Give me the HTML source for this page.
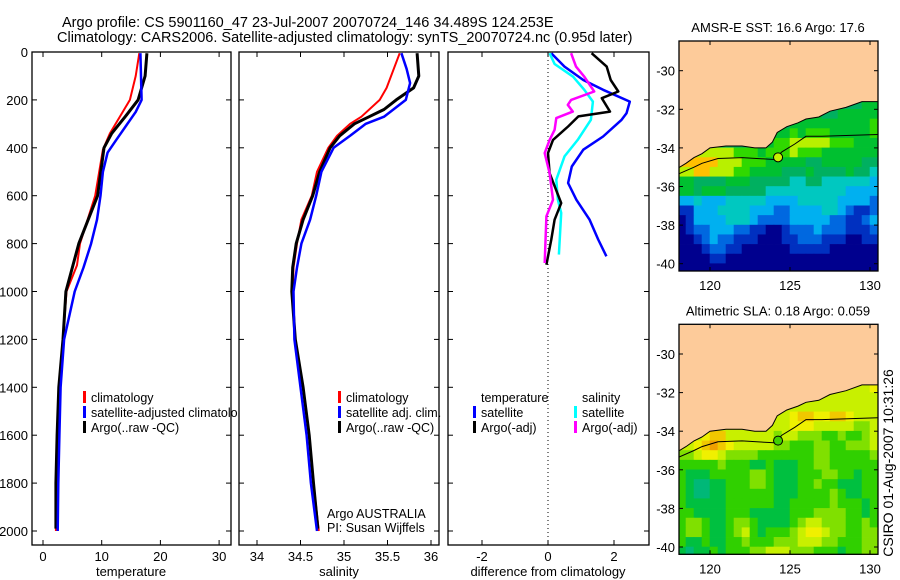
<!DOCTYPE html>
<html><head><meta charset="utf-8"><style>
html,body{margin:0;padding:0;background:#fff;}
svg{display:block;font-family:"Liberation Sans",sans-serif;}
</style></head><body>
<svg id="chart" width="900" height="580" viewBox="0 0 900 580" xmlns="http://www.w3.org/2000/svg">
<defs><clipPath id="clipP1"><rect x="0" y="0" width="238" height="580"/></clipPath>
<clipPath id="clipM1"><rect x="679" y="41" width="199" height="230"/></clipPath>
<clipPath id="clipM2"><rect x="679" y="325" width="199" height="230"/></clipPath></defs>
<text x="62" y="27" font-size="14.5">Argo profile: CS 5901160_47 23-Jul-2007 20070724_146 34.489S 124.253E</text>
<text x="57" y="42" font-size="14.5">Climatology: CARS2006. Satellite-adjusted climatology: synTS_20070724.nc (0.95d later)</text>
<g id="g"></g>
<text transform="translate(893,463) rotate(-90)" text-anchor="middle" font-size="14">CSIRO 01-Aug-2007 10:31:26</text>
</svg>
<script>
// ---- profile data (depth in m) ----
const tClimD = [5,100,200,340,408,600,800,890,1000,1200,1400,1600,1800,2000];
const tClimV = [16.4,15.8,14.8,11.4,10.2,8.9,6.3,5.8,4.0,3.4,2.8,2.5,2.3,2.2];
const tSatD = [5,100,200,250,370,420,500,600,700,800,900,1000,1200,1400,1600,1800,2000];
const tSatV = [16.6,16.7,16.8,15.8,12.4,11.0,10.2,9.8,9.2,8.2,6.9,5.4,3.6,3.0,2.8,2.6,2.5];
const tArgoD = [5,100,200,270,340,400,600,800,1000,1200,1400,1600,1800,1990];
const tArgoV = [17.7,17.4,16.2,14.0,11.7,10.4,9.3,6.1,3.9,3.4,2.7,2.4,2.2,2.2];
const sClimD = [5,150,200,270,300,350,400,500,600,700,800,900,1000,1200,1400,1600,1800,2000];
const sClimV = [35.64,35.49,35.41,35.2,35.07,34.92,34.82,34.69,34.63,34.51,34.46,34.42,34.41,34.44,34.53,34.6,34.65,34.71];
const sSatD = [5,70,130,200,270,300,350,400,500,600,700,800,900,1000,1200,1400,1600,1800,2000];
const sSatV = [35.66,35.72,35.76,35.71,35.46,35.25,35.07,34.88,34.74,34.68,34.61,34.51,34.46,34.42,34.43,34.5,34.57,34.62,34.69];
const sArgoD = [5,100,150,200,240,270,300,350,400,500,600,700,800,900,1000,1200,1400,1600,1800,1990];
const sArgoV = [35.84,35.86,35.8,35.6,35.46,35.29,35.12,34.95,34.84,34.72,34.64,34.53,34.45,34.41,34.4,34.44,34.53,34.6,34.65,34.7];
// ---- difference data ----
const dTSatD = [5,61,117,158,207,256,283,353,408,478,547,617,700,783,853];
const dTSatV = [0.1,0.5,1.07,1.67,2.48,2.38,2.23,1.67,1.07,0.72,0.61,0.86,1.26,1.52,1.77];
const dTArgoD = [5,61,117,165,193,249,269,311,367,422,506,631,700,783,888];
const dTArgoV = [1.32,1.78,1.9,2.13,1.63,1.88,0.92,0.61,0.15,0.0,0.05,0.4,0.2,0.1,-0.05];
const dSSatD = [5,50,103,158,207,283,367,436,533,617,672,846];
const dSSatV = [0.05,0.2,0.76,1.1,1.36,1.3,0.9,0.5,0.25,0.3,0.4,0.33];
const dSArgoD = [5,61,103,165,200,221,249,276,325,367,422,506,617,686,881];
const dSArgoV = [0.7,0.85,1.1,1.4,0.7,0.6,0.75,0.25,0.2,0.05,-0.1,0.05,0.15,-0.05,-0.1];
// ---- map data (rows from lat -31.5 down, 0.5deg; cols from 118E, 0.5deg) ----
const sstRows = ["5555555555555555555555566","5555555555555555665566666","5555555555555566666666667","5555555555566676777666667","5555555555567788888777666","8888888777677787776666666","9999988877766666556666655","8899888776666555655556554","6655556665555544554444443","6656665555544444444443333","3343334444433334444433332","1133344443332233334432112","0133334443222233333221123","0122333221100122232221112","0012322111000112221110011","0001221100000011111000000","0000110000000000000000000","0000000000000000000000000"];
const slaRows = ["eeeeeeeeeeeeeeeeeeeeeeeef","eeeeeeeeeeeeeeeeeeeeeeeee","eeeeeeeeeeeeeeeeeeeeeeeee","eeeeeeeeeeeeeefggffggfeee","eeeeeeeeeeeeeefffeeeeedde","eeefggeeeeeedeedddccdccde","eefghgfeeeeeddcccddccddde","ddeffeddddcccccccddcccccd","cccccdcccbbcbbbccddcccccc","cbbbcccccddcbbbcccddccbcc","cbaabbcccddcbbbccdccbbbcc","cbaabbccccccbbbccccdcbbcc","cbbbbbccccccbbcccccdcccbc","ccbbbbcccbbbbbcccddddccbc","cddcbbcddcbbbbcdeedddccdc","cddcbbcdecbcccdeffeddccdd","cbbcbbccdcccdddeeeddcccdd","babbcbcccddeeedddcccbccdd"];
const coastLon = [130.6,129.5,128.5,127.5,126.8,126,125.5,124.8,124.2,123.9,123.5,122.8,122,121,120,119.5,119,118.5,117.9];
const coastLat = [-31.6,-31.6,-31.9,-32.1,-32.4,-32.5,-32.7,-32.9,-33.2,-33.7,-34.0,-34.0,-33.9,-33.9,-34.0,-34.3,-34.5,-34.8,-35.1];
const contLon = [117.9,119,119.5,120.5,122,124,124.5,125.3,126,127,130.6];
const contLat = [-35.4,-35.0,-34.8,-34.55,-34.5,-34.6,-34.2,-33.8,-33.4,-33.4,-33.3];
const argoLon = 124.253, argoLat = -34.489;
const depthTicks = [0,200,400,600,800,1000,1200,1400,1600,1800,2000];
const tTicks = [0,10,20,30];
const sTicks = [34,34.5,35,35.5,36];
const dTicks = [-2,0,2];
const lonTicks = [120,125,130];
const latTicks = [-30,-32,-34,-36,-38,-40];

const NS="http://www.w3.org/2000/svg";
const G=document.getElementById('g');
function mk(tag,at,parent){const e=document.createElementNS(NS,tag);for(const k in at)e.setAttribute(k,at[k]);(parent||G).appendChild(e);return e;}
const yD=d=>52+d*0.2395;
const xT=v=>43+v*5.87;
const xS=v=>257+(v-34)*87;
const xDf=v=>548+v*33;
function line(D,V,xf,color,w,name,parent){
  const p=mk('polyline',{points:D.map((d,i)=>xf(V[i]).toFixed(1)+','+yD(d).toFixed(1)).join(' '),fill:'none',stroke:color,'stroke-width':w,'stroke-linejoin':'round'},parent);
  
  
}
function frame(x0,x1,name){
  const r=mk('rect',{x:x0,y:52,width:x1-x0,height:493,fill:'none',stroke:'#000','stroke-width':1.3});
  
  
}
function txt(x,y,s,anchor,name,size,parent){
  const t=mk('text',{x:x,y:y,'font-size':size||13,'text-anchor':anchor||'start'},parent);t.textContent=s;
  
  
  return t;
}
[[32,231],[239,439],[448,649]].forEach((p,i)=>{
  depthTicks.forEach(d=>{mk('line',{x1:p[0],x2:p[0]+5,y1:yD(d),y2:yD(d),stroke:'#000'});mk('line',{x1:p[1]-5,x2:p[1],y1:yD(d),y2:yD(d),stroke:'#000'});});
});
depthTicks.forEach(d=>txt(28,yD(d)+5,String(d),'end','depth-tick-label'));
tTicks.forEach(v=>{mk('line',{x1:xT(v),x2:xT(v),y1:52,y2:57,stroke:'#000'});mk('line',{x1:xT(v),x2:xT(v),y1:540,y2:545,stroke:'#000'});txt(xT(v),561,String(v),'middle','temperature-tick-label');});
sTicks.forEach(v=>{mk('line',{x1:xS(v),x2:xS(v),y1:52,y2:57,stroke:'#000'});mk('line',{x1:xS(v),x2:xS(v),y1:540,y2:545,stroke:'#000'});txt(xS(v),561,String(v),'middle','salinity-tick-label');});
dTicks.forEach(v=>{mk('line',{x1:xDf(v),x2:xDf(v),y1:52,y2:57,stroke:'#000'});mk('line',{x1:xDf(v),x2:xDf(v),y1:540,y2:545,stroke:'#000'});txt(xDf(v),561,String(v),'middle','difference-tick-label');});
txt(131,576,'temperature','middle','x-axis-title-temperature');
txt(339,576,'salinity','middle','x-axis-title-salinity');
txt(548,576,'difference from climatology','middle','x-axis-title-difference');
mk('line',{x1:xDf(0),x2:xDf(0),y1:52,y2:545,stroke:'#000','stroke-dasharray':'1,3'});
line(tClimD,tClimV,xT,'#f00',2,'temp-climatology-line');
line(tArgoD,tArgoV,xT,'#000',3,'temp-argo-line');
line(tSatD,tSatV,xT,'#00f',2.5,'temp-satellite-line');
line(sClimD,sClimV,xS,'#f00',2,'sal-climatology-line');
line(sArgoD,sArgoV,xS,'#000',3,'sal-argo-line');
line(sSatD,sSatV,xS,'#00f',2.5,'sal-satellite-line');
line(dTSatD,dTSatV,xDf,'#00f',2.5,'diff-temp-satellite-line');
line(dSSatD,dSSatV,xDf,'#0ff',2.5,'diff-sal-satellite-line');
line(dTArgoD,dTArgoV,xDf,'#000',2.5,'diff-temp-argo-line');
line(dSArgoD,dSArgoV,xDf,'#f0f',2.5,'diff-sal-argo-line');
frame(32,231,'temperature-panel');frame(239,439,'salinity-panel');frame(448,649,'difference-panel');
function leg(x,y,c,s,name,parent){mk('rect',{x:x,y:y-11,width:3,height:12,fill:c},parent);txt(x+8,y,s,'start',name,12.5,parent);}
const lg1=mk('g',{'clip-path':'url(#clipP1)'});
leg(83,402,'#f00','climatology','legend-climatology',lg1);
leg(83,417,'#00f','satellite-adjusted climatology','legend-satellite-adjusted',lg1);
leg(83,432,'#000','Argo(..raw -QC)','legend-argo',lg1);
leg(338,402,'#f00','climatology','legend-sal-climatology');
leg(338,417,'#00f','satellite adj. clim.','legend-sal-satellite');
leg(338,432,'#000','Argo(..raw -QC)','legend-sal-argo');
txt(481,402,'temperature','start','legend-temperature-header',12.5);
leg(473,417,'#00f','satellite','legend-diff-temp-satellite');
leg(473,432,'#000','Argo(-adj)','legend-diff-temp-argo');
txt(582,402,'salinity','start','legend-salinity-header',12.5);
leg(574,417,'#0ff','satellite','legend-diff-sal-satellite');
leg(574,432,'#f0f','Argo(-adj)','legend-diff-sal-argo');
txt(327,518,'Argo AUSTRALIA','start','argo-agency-label',12.5);
txt(327,532,'PI: Susan Wijffels','start','pi-label',12.5);
const sstCol={'0':'#00008e','1':'#0030c0','2':'#0068e0','3':'#00b0f0','4':'#00c8c0','5':'#00b060','6':'#00c030','7':'#30d800','8':'#b8f000','9':'#ffc000'};
const slaCol={'a':'#00b878','b':'#00c040','c':'#30d000','d':'#80e000','e':'#c8f000','f':'#f0f000','g':'#f0c800','h':'#f0a000'};
function drawMap(y30,rows,cols,clip,title,tname,name){
  const xL=l=>710+(l-120)*16, yL=la=>y30+(-la-30)*19.3;
  const top=y30-29.7, gm=mk('g',{'clip-path':'url('+clip+')'});
  
  
  mk('rect',{x:679,y:top,width:199,height:230,fill:'#fdcb9a'},gm);
  rows.forEach((r,ri)=>{for(let ci=0;ci<r.length;ci++){const lon=118+ci*0.5, lat=-31.5-ri*0.5;
    mk('rect',{x:xL(lon)-0.3,y:yL(lat)-0.3,width:8.5,height:10,fill:cols[r[ci]]},gm);}});
  let poly='' + xL(117.5)+','+yL(-28)+' '+xL(131)+','+yL(-28)+' ';
  poly+=coastLon.map((l,i)=>xL(l).toFixed(1)+','+yL(coastLat[i]).toFixed(1)).join(' ');
  mk('polygon',{points:poly,fill:'#fdcb9a',stroke:'none'},gm);
  mk('polyline',{points:coastLon.map((l,i)=>xL(l).toFixed(1)+','+yL(coastLat[i]).toFixed(1)).join(' '),fill:'none',stroke:'#000','stroke-width':1},gm);
  mk('polyline',{points:contLon.map((l,i)=>xL(l).toFixed(1)+','+yL(contLat[i]).toFixed(1)).join(' '),fill:'none',stroke:'#000','stroke-width':1},gm);
  const c=mk('circle',{cx:xL(argoLon),cy:yL(argoLat),r:4.5,fill:name==='sst-map'?'#c8f000':'#40d000',stroke:'#000','stroke-width':1},gm);
  
  
  mk('rect',{x:679,y:top,width:199,height:230,fill:'none',stroke:'#000','stroke-width':1.3});
  lonTicks.forEach(l=>{mk('line',{x1:xL(l),x2:xL(l),y1:top,y2:top+4,stroke:'#000'});mk('line',{x1:xL(l),x2:xL(l),y1:top+226,y2:top+230,stroke:'#000'});txt(xL(l),top+249,String(l),'middle','lon-tick-label',13);});
  latTicks.forEach(la=>{mk('line',{x1:679,x2:683,y1:yL(la),y2:yL(la),stroke:'#000'});mk('line',{x1:874,x2:878,y1:yL(la),y2:yL(la),stroke:'#000'});txt(675,yL(la)+5,String(la),'end','lat-tick-label',13);});
  txt(778,top-9,title,'middle',tname,13);
}
drawMap(70.7,sstRows,sstCol,'#clipM1','AMSR-E SST: 16.6 Argo: 17.6','sst-map-title','sst-map');
drawMap(354,slaRows,slaCol,'#clipM2','Altimetric SLA: 0.18 Argo: 0.059','sla-map-title','sla-map');
</script>
</body></html>
